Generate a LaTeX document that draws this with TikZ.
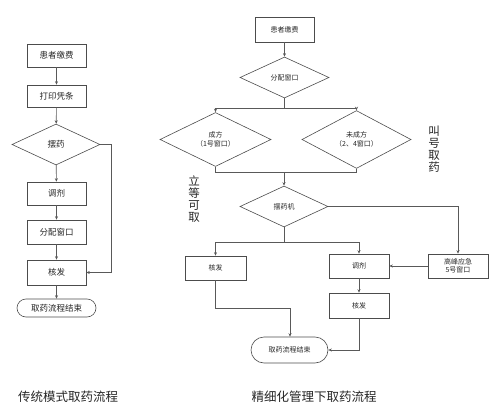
\documentclass[tikz,border=0pt]{standalone}
\usepackage{fontspec}
\setmainfont{Noto Sans CJK SC}
\usetikzlibrary{shapes.geometric,shapes.misc,arrows.meta,calc}
\tikzset{
  ln/.style={draw=black!65,line width=0.6pt},
  arr/.style={ln,-{Stealth[length=3.5pt,width=3pt]}},
  boxL/.style={draw=black!70,line width=0.6pt,minimum width=59pt,inner sep=0pt,font=\fontsize{8.5}{10}\selectfont,text=black!85},
  boxR/.style={draw=black!70,line width=0.6pt,inner sep=0pt,font=\fontsize{7}{8.5}\selectfont,text=black!85,align=center},
  dia/.style={draw=black!70,line width=0.6pt,diamond,inner sep=0pt,align=center,text=black!85},
  term/.style={draw=black!70,line width=0.6pt,rounded rectangle,inner sep=0pt,text=black!85},
  vlab/.style={font=\fontsize{11.5}{12}\selectfont,align=center,text=black!85},
  captxt/.style={font=\fontsize{12.5}{14}\selectfont,text=black!85}
}
\begin{document}
\begin{tikzpicture}[x=1pt,y=-1pt]
\useasboundingbox (0,0) rectangle (497,414);
% ---------- left chart ----------
\node[boxL,minimum height=23pt] (l1) at (56.5,55.5) {患者缴费};
\node[boxL,minimum height=22pt] (l2) at (56.5,96) {打印凭条};
\node[dia,minimum width=88pt,minimum height=41pt,font=\fontsize{8.5}{10}\selectfont] (ld) at (56,144.5) {摆药};
\node[boxL,minimum height=23pt] (l3) at (56.5,193.5) {调剂};
\node[boxL,minimum height=24pt] (l4) at (56.5,232) {分配窗口};
\node[boxL,minimum height=25pt] (l5) at (56.5,272.5) {核发};
\node[term,minimum width=79pt,minimum height=18pt,font=\fontsize{8.5}{10}\selectfont] (l6) at (56.5,308) {取药流程结束};
\draw[arr] (l1) -- (l2);
\draw[arr] (l2) -- (ld);
\draw[arr] (ld) -- (l3);
\draw[arr] (l3) -- (l4);
\draw[arr] (l4) -- (l5);
\draw[arr] (l5) -- (l6);
\coordinate (lc) at (111,144.5);
\draw[arr] (ld.east) -- (lc) |- (l5.east);
% ---------- right chart ----------
\node[boxR,minimum width=59pt,minimum height=25pt] (r1) at (284.5,29.5) {患者缴费};
\node[dia,minimum width=89pt,minimum height=41pt,font=\fontsize{7}{8.5}\selectfont] (d1) at (284.5,77.5) {分配窗口};
\node[dia,minimum width=111pt,minimum height=43pt,font=\fontsize{7}{8.5}\selectfont] (d2) at (215.5,139.5) {成方\\（1号窗口）};
\node[dia,minimum width=109pt,minimum height=43pt,font=\fontsize{7}{8.5}\selectfont] (d3) at (356.5,139.5) {未成方\\（2、4窗口）};
\node[dia,minimum width=88pt,minimum height=41pt,font=\fontsize{7}{8.5}\selectfont] (d4) at (284,206.5) {摆药机};
\node[boxR,minimum width=61pt,minimum height=24pt] (k1) at (215.5,268) {核发};
\node[boxR,minimum width=60pt,minimum height=24pt] (t1) at (359,266) {调剂};
\node[boxR,minimum width=60pt,minimum height=24pt] (g1) at (458,266) {高峰应急\\5号窗口};
\node[boxR,minimum width=60pt,minimum height=25pt] (k2) at (359,305.5) {核发};
\node[term,minimum width=77pt,minimum height=26pt,font=\fontsize{7}{8.5}\selectfont] (e1) at (289.5,350) {取药流程结束};
% connectors
\draw[arr] (r1) -- (d1);
\coordinate (s1) at (284.5,108);
\draw[ln] (d1.south) -- (s1);
\draw[arr] (s1) -| (d2.north);
\draw[arr] (s1) -| (d3.north);
\coordinate (m1) at (284,172);
\draw[ln] (d2.south) |- (m1);
\draw[ln] (d3.south) |- (m1);
\draw[arr] (m1) -- (d4.north);
\draw[arr] (d4.east) -| (g1.north);
\coordinate (s2) at (284,242);
\draw[ln] (d4.south) -- (s2);
\draw[arr] (s2) -| (k1.north);
\draw[arr] (s2) -| (t1.north);
\draw[arr] (g1.west) -- (t1.east);
\draw[arr] (t1) -- (k2);
\coordinate (b1) at (290,308);
\draw[ln] (k1.south) |- (b1);
\draw[arr] (b1) -- (e1.north -| b1);
\draw[arr] (k2.south) |- (e1.east);
% side labels
\node[vlab] (v1) at (194,199) {立\\等\\可\\取};
\node[vlab] (v2) at (434,149) {叫\\号\\取\\药};
% captions
\node[captxt] (c1) at (68,397) {传统模式取药流程};
\node[captxt] (c2) at (314,397) {精细化管理下取药流程};
\end{tikzpicture}
\end{document}
